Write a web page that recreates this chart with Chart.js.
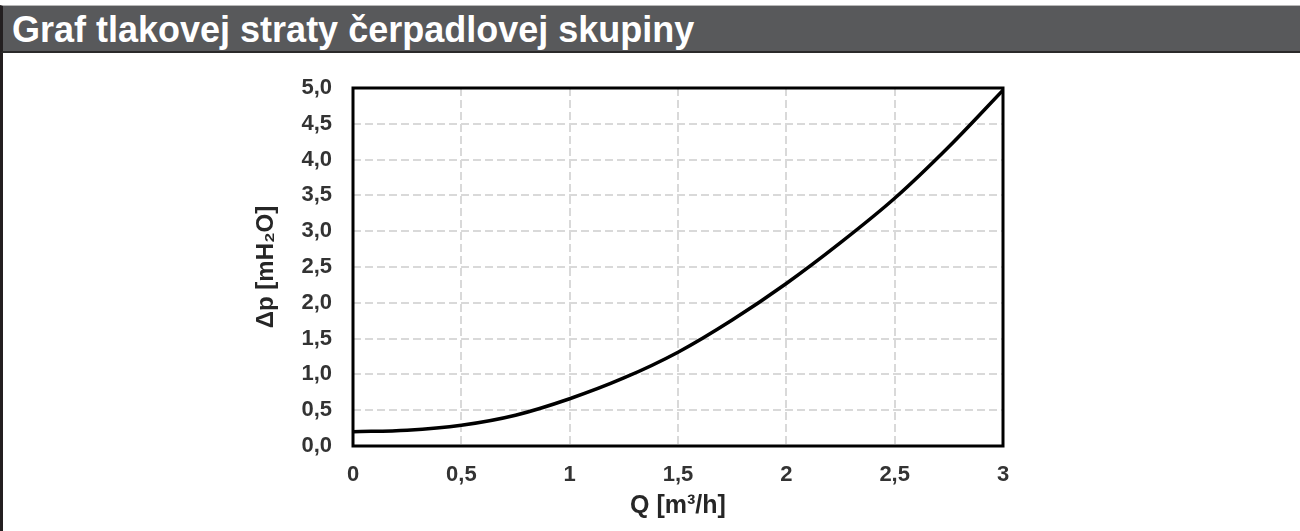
<!DOCTYPE html>
<html>
<head>
<meta charset="utf-8">
<script src="https://cdn.jsdelivr.net/npm/chart.js@4/dist/chart.umd.min.js"></script>
<style>
  body { margin: 0; width: 1300px; height: 531px; background: #fff; overflow: hidden; position: relative; }
  #hdr {
    position: absolute; left: 0; top: 5px; width: 1297px; height: 45px;
    background: #58595b; border-top: 1px solid #b8b8b8; border-bottom: 2px solid #2a2a2a;
    border-left: 3px solid #231f20;
    color: #fff; font: bold 36px "Liberation Sans", Arial, sans-serif; line-height: 47px;
    white-space: nowrap; overflow: hidden;
  }
  #hdr span { display: inline-block; margin-left: 9px; }
  #side { position: absolute; left: 0; top: 53px; width: 3px; height: 478px; background: #231f20; }
  #wrap { position: absolute; left: 0; top: 53px; width: 1300px; height: 478px; }
</style>
</head>
<body>
<div id="hdr"><span>Graf tlakovej straty čerpadlovej skupiny</span></div>
<div id="side"></div>
<div id="wrap"><canvas id="chart"></canvas></div>
<script>
// flow Q [m3/h] and pressure loss dp [mH2O]
let flow = [0, 0.25, 0.5, 0.75, 1, 1.25, 1.5, 1.75, 2, 2.25, 2.5, 2.75, 3];
let loss = [0.2, 0.22, 0.29, 0.43, 0.66, 0.95, 1.31, 1.76, 2.27, 2.84, 3.46, 4.18, 4.97];

let xTitle = "Q [m³/h]";
let yTitle = "Δp [mH₂O]";

let points = [];
for (let i in flow) points.push({ x: flow[i], y: loss[i] });

// frame round the plot area
let boxPlugin = {
  id: "box",
  afterDraw: function (chart) {
    let a = chart.chartArea;
    let ctx = chart.ctx;
    ctx.save();
    ctx.strokeStyle = "#000";
    ctx.lineWidth = 3;
    ctx.strokeRect(a.left, a.top, a.right - a.left, a.bottom - a.top);
    ctx.restore();
  }
};

let fontFam = '"Liberation Sans", Arial, sans-serif';

new Chart(document.getElementById("chart"), {
  type: "scatter",
  data: {
    datasets: [{
      data: points,
      showLine: true,
      borderColor: "#000",
      borderWidth: 3.5,
      pointRadius: 0,
      cubicInterpolationMode: "monotone",
      fill: false
    }]
  },
  options: {
    responsive: true,
    maintainAspectRatio: false,
    animation: false,
    layout: { padding: { left: 250, right: 297, top: 35, bottom: 0 } },
    plugins: { legend: { display: false }, tooltip: { enabled: false } },
    scales: {
      x: {
        type: "linear",
        min: 0,
        max: 3,
        afterFit: function (s) { s.height = 85; },
        grid: { color: "#d9d9d9", lineWidth: 2, drawTicks: false },
        border: { dash: [8, 4], display: false },
        ticks: {
          stepSize: 0.5,
          padding: 16,
          color: "#333",
          font: { family: fontFam, size: 22, weight: "bold" },
          callback: function (v) { return String(v).replace(".", ","); }
        },
        title: {
          display: true,
          text: xTitle,
          color: "#262626",
          padding: { bottom: 10 },
          font: { family: fontFam, size: 25, weight: "bold" }
        }
      },
      y: {
        min: 0,
        max: 5,
        afterFit: function (s) { s.width = 103; },
        grid: { color: "#d9d9d9", lineWidth: 2, drawTicks: false },
        border: { dash: [8, 4], display: false },
        ticks: {
          stepSize: 0.5,
          padding: 21,
          color: "#333",
          font: { family: fontFam, size: 22, weight: "bold" },
          callback: function (v) { return v.toFixed(1).replace(".", ","); }
        },
        title: {
          display: true,
          text: yTitle,
          color: "#262626",
          padding: { top: 2 },
          font: { family: fontFam, size: 24, weight: "bold" }
        }
      }
    }
  },
  plugins: [boxPlugin]
});
</script>
</body>
</html>
